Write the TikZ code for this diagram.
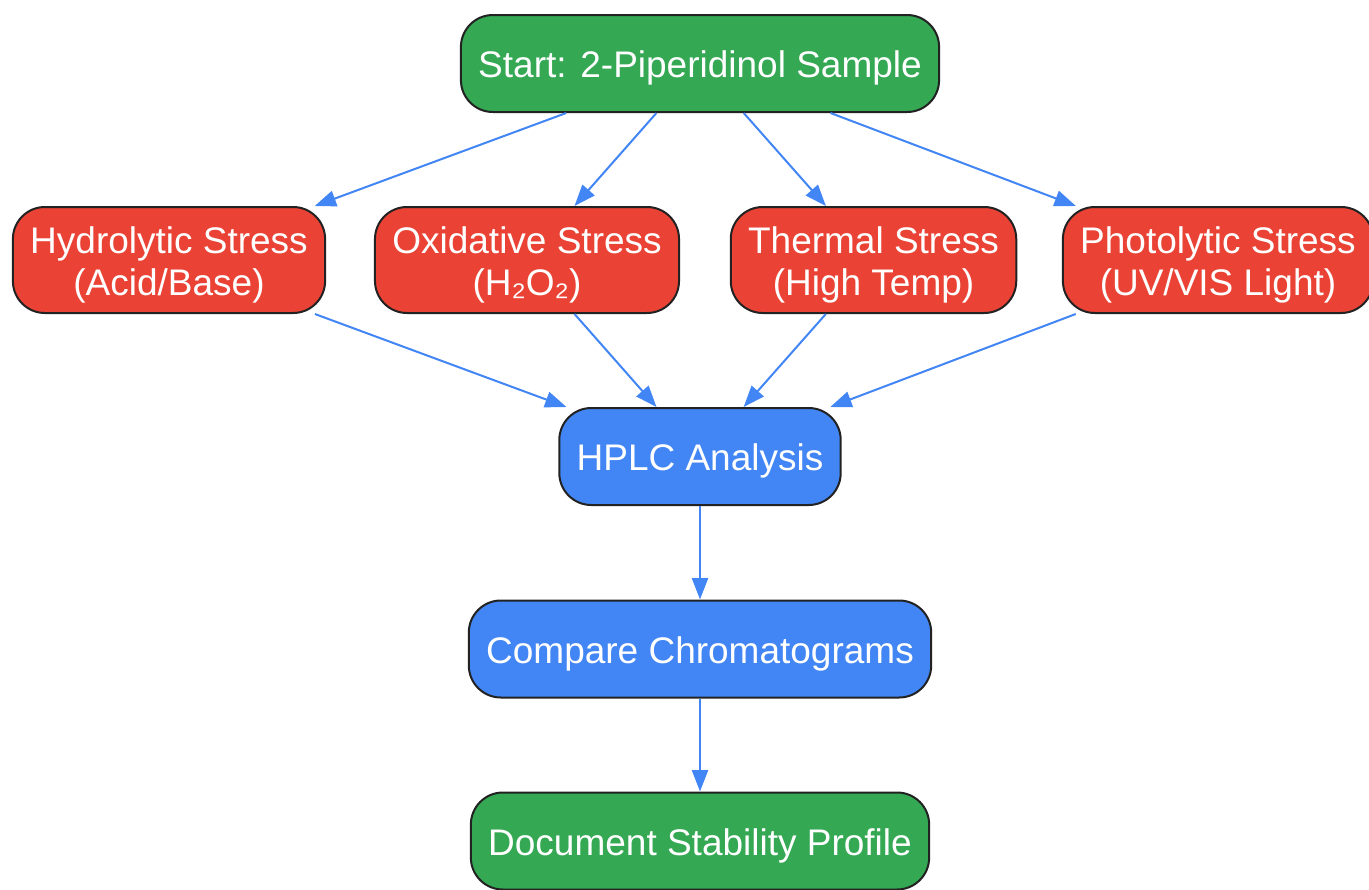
\documentclass[tikz,border=0pt]{standalone}
\usepackage{fontspec}
\setmainfont{Liberation Sans}
\usepackage{xcolor}
\usetikzlibrary{arrows.meta}

\definecolor{startgreen}{HTML}{34A853}
\definecolor{stressred}{HTML}{EA4335}
\definecolor{labblue}{HTML}{4285F4}
\definecolor{edgeline}{HTML}{222222}

\tikzset{
    box/.style = {draw = edgeline, line width = 1.5pt, rounded corners = 24pt,
      text = white, align = center, inner xsep = 13pt, inner ysep = 6pt,
      minimum height = 72.75pt,
      execute at begin node = \rule{0pt}{27pt},
      font = \fontsize{27.75}{31.5}\selectfont},
    greenbox/.style = {box, fill = startgreen},
    redbox/.style = {box, fill = stressred, minimum height = 79.5pt,
      execute at begin node = \rule{0pt}{59pt}},
    bluebox/.style = {box, fill = labblue},
    arr/.style = {draw = labblue, line width = 1.5pt,
      -{Triangle[length = 16pt, width = 12pt]}}
}

\begin{document}
\begin{tikzpicture}[x = 0.75pt, y = -0.75pt]
    \useasboundingbox (0, 0) rectangle (1369, 889);

    \node[greenbox] (start) at (700, 63.5) {Start: 2-Piperidinol Sample};

    \node[redbox] (hydro) at (169, 260) {Hydrolytic Stress\\(Acid/Base)};
    \node[redbox] (oxid) at (527, 260) {Oxidative Stress\\(H₂O₂)};
    \node[redbox] (therm) at (873.5, 260) {Thermal Stress\\(High Temp)};
    \node[redbox] (photo) at (1218, 260) {Photolytic Stress\\(UV/VIS Light)};

    \node[bluebox] (hplc) at (700, 456.5) {HPLC Analysis};
    \node[bluebox] (compare) at (700, 649) {Compare Chromatograms};
    \node[greenbox] (doc) at (700, 841) {Document Stability Profile};

    \draw[arr] (start) -- (hydro);
    \draw[arr] (start) -- (oxid);
    \draw[arr] (start) -- (therm);
    \draw[arr] (start) -- (photo);

    \draw[arr] (hydro) -- (hplc);
    \draw[arr] (oxid) -- (hplc);
    \draw[arr] (therm) -- (hplc);
    \draw[arr] (photo) -- (hplc);

    \draw[arr] (hplc) -- (compare);
    \draw[arr] (compare) -- (doc);
\end{tikzpicture}
\end{document}
